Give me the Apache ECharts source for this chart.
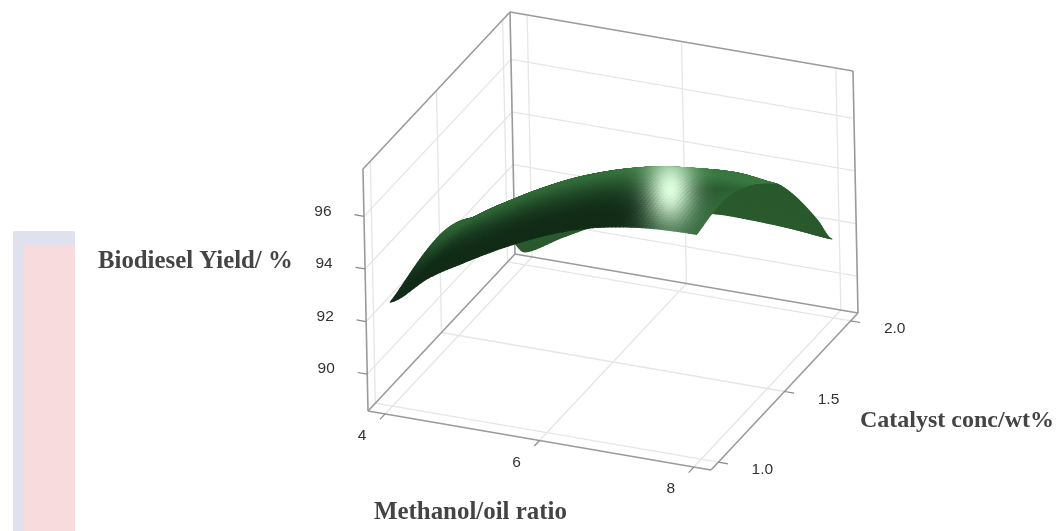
<!DOCTYPE html>
<html><head><meta charset="utf-8">
<style>html,body{margin:0;padding:0;background:#fff}#c{width:1062px;height:531px}</style>
<script src="https://cdn.jsdelivr.net/npm/echarts@6/dist/echarts.min.js"></script>
</head><body><div id="c"></div>
<script>
// ---- data ----
const methanolTicks = [4, 6, 8];
const catalystTicks = [1.0, 1.5, 2.0];
const yieldTicks = [90, 92, 94, 96];
const methanolGrid = [4, 4.5, 5, 5.5, 6, 6.5, 7, 7.5, 8];
const catalystGrid = [1.0, 1.1, 1.2, 1.3, 1.4, 1.5, 1.6, 1.7, 1.8, 1.9, 2.0];
// biodiesel yield along catalyst conc, one list per methanol/oil ratio
const yieldAt4_0 = [92.55, 92.72, 92.92, 93.05, 93.06, 92.88, 92.5, 91.85, 91.05, 90.15, 89.09];
const yieldAt4_5 = [93.72, 93.92, 94.02, 94.03, 93.93, 93.72, 93.36, 92.8, 92.05, 91.1, 89.9];
const yieldAt5_0 = [94.6, 94.78, 94.88, 94.88, 94.78, 94.55, 94.18, 93.6, 92.85, 91.85, 90.65];
const yieldAt5_5 = [95.4, 95.58, 95.68, 95.67, 95.55, 95.28, 94.85, 94.25, 93.45, 92.42, 91.17];
const yieldAt6_0 = [96.08, 96.25, 96.33, 96.3, 96.13, 95.82, 95.37, 94.75, 93.92, 92.88, 91.57];
const yieldAt6_5 = [96.6, 96.78, 96.85, 96.78, 96.58, 96.22, 95.72, 95.02, 94.13, 93.08, 91.8];
const yieldAt7_0 = [96.93, 97.08, 97.13, 97.05, 96.82, 96.42, 95.91, 95.18, 94.28, 93.18, 91.8];
const yieldAt7_5 = [97.1, 97.25, 97.3, 97.18, 96.92, 96.5, 96.0, 95.2, 94.25, 93.08, 91.73];
const yieldAt8_0 = [97.15, 97.3, 97.34, 97.2, 96.88, 96.42, 95.84, 94.98, 93.95, 92.82, 91.6];
const surfaceYield = [yieldAt4_0, yieldAt4_5, yieldAt5_0, yieldAt5_5, yieldAt6_0, yieldAt6_5, yieldAt7_0, yieldAt7_5, yieldAt8_0];
const titleX = 'Methanol/oil ratio', titleC = 'Catalyst conc/wt%', titleZ = 'Biodiesel Yield/ %';

// ---- 3D scales: box fractions to plane ----
const O = [368, 411], AX = [343, 59], AC = [147, -157], AZ = [-5, -242];
const zMin = 88.6, zMax = 97.8;
const fx = x => 0.05 + 0.9 * (x - methanolGrid[0]) / 4;
const fc = c => 0.05 + 0.9 * (c - catalystGrid[0]);
const fz = z => (z - zMin) / (zMax - zMin);
const plane = (a, b, h) => [O[0] + a * AX[0] + b * AC[0] + h * AZ[0], O[1] + a * AX[1] + b * AC[1] + h * AZ[1]];

function cr(a, b, c, d, t) { return 0.5 * (2 * b + (c - a) * t + (2 * a - 5 * b + 4 * c - d) * t * t + (3 * b - a - 3 * c + d) * t * t * t); }
function surf(u, v) {
  const nu = surfaceYield.length - 1, nv = surfaceYield[0].length - 1;
  const iu = Math.min(Math.floor(u), nu - 1), iv = Math.min(Math.floor(v), nv - 1);
  const tu = u - iu, tv = v - iv, col = [];
  for (let a = -1; a <= 2; a++) {
    const r = surfaceYield[Math.max(0, Math.min(nu, iu + a))];
    const g = k => r[Math.max(0, Math.min(nv, k))];
    col.push(cr(g(iv - 1), g(iv), g(iv + 1), g(iv + 2), tv));
  }
  return cr(col[0], col[1], col[2], col[3], tu);
}
const uvPlane = (u, v) => plane(0.05 + 0.9 * u / 8, 0.05 + 0.9 * v / 10, fz(surf(u, v)));
const sm = (a, b, x) => { const t = Math.max(0, Math.min(1, (x - a) / (b - a))); return t * t * (3 - 2 * t); };
const mix = (p, q, t) => [p[0] + (q[0] - p[0]) * t, p[1] + (q[1] - p[1]) * t, p[2] + (q[2] - p[2]) * t];
const DARK = [18, 44, 24], LIGHT = [58, 122, 66], UNDER = [42, 90, 46], SPEC = [222, 255, 222];
const specAt = plane(fx(7.2), fc(1.27), fz(96.95));
function topColor(u, v, p) {
  let s = sm(0.6, 4.6, v);
  s = Math.max(s, (u - 6) / 2 * 0.75) * (0.74 + 0.26 * u / 8);
  let col = mix(DARK, LIGHT, s);
  const dx = p[0] - specAt[0], dy = p[1] - specAt[1];
  const w = Math.exp(-(dx * dx) / (24 * 24) - (dy * dy) / (36 * 36));
  col = mix(col, SPEC, w);
  return 'rgb(' + col.map(Math.round).join(',') + ')';
}

// ---- data-derived item lists ----
const cells = [];
for (let j = catalystGrid.length - 2; j >= 0; j--) for (let k = 0; k < methanolGrid.length - 1; k++) cells.push([k, j]);

const gridLines = [];
yieldTicks.forEach(z => { const h = fz(z);
  gridLines.push([0, 0, h, 0, 1, h]); gridLines.push([0, 1, h, 1, 1, h]); });
methanolTicks.forEach(x => { const a = fx(x);
  gridLines.push([a, 0, 0, a, 1, 0]); gridLines.push([a, 1, 0, a, 1, 1]); });
catalystTicks.forEach(c => { const b = fc(c);
  gridLines.push([0, b, 0, 1, b, 0]); gridLines.push([0, b, 0, 0, b, 1]); });
const boxLines = [[0,0,0,1,0,0],[1,0,0,1,1,0],[0,0,0,0,0,1],[0,0,1,0,1,1],[0,1,1,1,1,1],[1,1,0,1,1,1],[0,0,0,0,1,0],[0,1,0,0,1,1],[0,1,0,1,1,0]];
const tickLines = [];
yieldTicks.forEach(z => tickLines.push([0, 0, fz(z), -0.028, 0, fz(z)]));
methanolTicks.forEach(x => tickLines.push([fx(x), 0, 0, fx(x), -0.035, 0]));
catalystTicks.forEach(c => tickLines.push([1, fc(c), 0, 1.028, fc(c), 0]));
const tickText = [];
yieldTicks.forEach(z => tickText.push([0, 0, fz(z), -41, -5, String(z)]));
methanolTicks.forEach(x => tickText.push([fx(x), 0, 0, -23, 22, String(x)]));
catalystTicks.forEach(c => tickText.push([1, fc(c), 0, 44, 8, c.toFixed(1)]));

const lineSeries = (data, color, width, z) => ({
  type: 'custom', coordinateSystem: 'cartesian2d', silent: true, animation: false, clip: false, z,
  data: data.map(d => d.slice()),
  renderItem(params, api) {
    const d = data[params.dataIndex];
    const p = api.coord(plane(d[0], d[1], d[2])), q = api.coord(plane(d[3], d[4], d[5]));
    return { type: 'line', shape: { x1: p[0], y1: p[1], x2: q[0], y2: q[1] }, style: { stroke: color, lineWidth: width, fill: null } };
  }
});

const SUBU = 10, SUBV = 8;
const option = {
  animation: false, backgroundColor: '#ffffff',
  grid: { left: 0, right: 0, top: 0, bottom: 0 },
  xAxis: { type: 'value', min: 0, max: 1062, show: false },
  yAxis: { type: 'value', min: 0, max: 531, inverse: true, show: false },
  graphic: [
    { type: 'rect', shape: { x: 13, y: 231, width: 62, height: 300 }, style: { fill: '#dfe2ee' }, silent: true },
    { type: 'rect', shape: { x: 24, y: 245, width: 51, height: 286 }, style: { fill: '#f8dcdd' }, silent: true },
    { type: 'text', x: 98, y: 262, style: { text: titleZ, fill: '#444', font: 'bold 24.8px "Liberation Serif"', textVerticalAlign: 'middle' }, silent: true },
    { type: 'text', x: 860, y: 421, style: { text: titleC, fill: '#444', font: 'bold 24px "Liberation Serif"', textVerticalAlign: 'middle' }, silent: true },
    { type: 'text', x: 374, y: 513, style: { text: titleX, fill: '#444', font: 'bold 24.9px "Liberation Serif"', textVerticalAlign: 'middle' }, silent: true }
  ],
  series: [
    lineSeries(gridLines, '#e6e6e6', 1.3, 1),
    lineSeries(boxLines, '#9a9a9a', 1.6, 2),
    lineSeries(tickLines, '#8a8a8a', 1.2, 2),
    {
      type: 'custom', coordinateSystem: 'cartesian2d', silent: true, animation: false, clip: false, z: 3,
      data: tickText.map(d => [d[0], d[1]]),
      renderItem(params, api) {
        const d = tickText[params.dataIndex];
        const p = api.coord(plane(d[0], d[1], d[2]));
        return { type: 'text', x: p[0] + d[3], y: p[1] + d[4],
          style: { text: d[5], fill: '#333', font: '15.5px "Liberation Sans"', textAlign: 'center', textVerticalAlign: 'middle' } };
      }
    },
    {
      type: 'custom', coordinateSystem: 'cartesian2d', silent: true, animation: false, clip: false, z: 4, progressive: 0,
      data: cells,
      renderItem(params, api) {
        const c = cells[params.dataIndex], children = [];
        for (let b = SUBV - 1; b >= 0; b--) for (let a = 0; a < SUBU; a++) {
          const u0 = c[0] + a / SUBU, u1 = c[0] + (a + 1) / SUBU, v0 = c[1] + b / SUBV, v1 = c[1] + (b + 1) / SUBV;
          const P = [uvPlane(u0, v0), uvPlane(u1, v0), uvPlane(u1, v1), uvPlane(u0, v1)];
          const cross = (P[2][0] - P[0][0]) * (P[3][1] - P[1][1]) - (P[2][1] - P[0][1]) * (P[3][0] - P[1][0]);
          const cx = (P[0][0] + P[2][0]) / 2, cy = (P[0][1] + P[2][1]) / 2;
          const fill = cross < 0 ? topColor((u0 + u1) / 2, (v0 + v1) / 2, [cx, cy]) : 'rgb(' + UNDER.join(',') + ')';
          children.push({ type: 'polygon', shape: { points: P.map(q => api.coord(q)) }, style: { fill, stroke: fill, lineWidth: 1.2, lineJoin: 'round' } });
        }
        return { type: 'group', children };
      }
    }
  ]
};
const chart = echarts.init(document.getElementById('c'), null, { renderer: 'canvas' });
chart.setOption(option);
</script></body></html>
